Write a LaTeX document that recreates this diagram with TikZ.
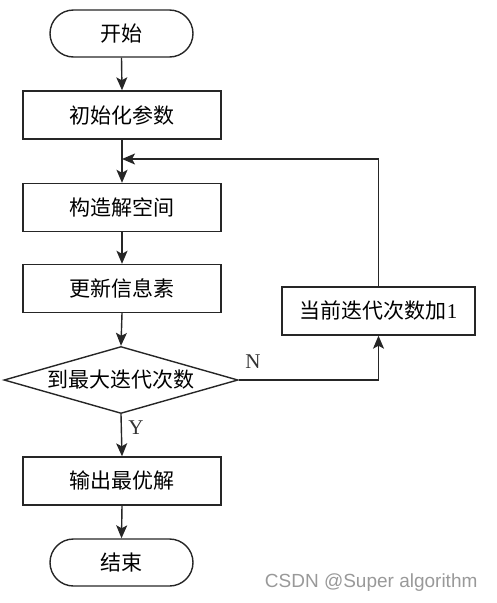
\documentclass[tikz,border=0pt]{standalone}
\usepackage{fontspec}
\setmainfont{Liberation Serif}
\newfontfamily\cjk{Noto Sans CJK SC}
\newfontfamily\wm{Liberation Sans}
\usetikzlibrary{shapes.geometric,arrows.meta}
\begin{document}
\begin{tikzpicture}[x=1pt,y=-1pt,
  every node/.style={font=\cjk\fontsize{21}{25}\selectfont},
  line/.style={line width=1.4pt,draw=black!85},
  term/.style={line, rounded corners=23.5pt, minimum width=143pt, minimum height=47pt, inner sep=0pt},
  proc/.style={line, minimum width=198pt, minimum height=48pt, inner sep=0pt},
  dec/.style={line, diamond, aspect=3.5, minimum width=234pt, minimum height=67pt, inner sep=0pt},
  arr/.style={line, -{Stealth[length=13pt,width=11pt,inset=3pt]}},
  lab/.style={font=\fontsize{21}{24}\selectfont, text=black!80}
]
\useasboundingbox (0,0) rectangle (496,603);
\node[term] (start) at (121.5,33.5) {开始};
\node[proc] (init) at (122,115) {初始化参数};
\node[proc] (build) at (122,207.5) {构造解空间};
\node[proc] (upd) at (122,288.5) {更新信息素};
\node[dec] (chk) at (121,380) {到最大迭代次数};
\node[proc] (out) at (122,481) {输出最优解};
\node[term] (fin) at (121.5,562.5) {结束};
\node[line, minimum width=193pt, minimum height=48pt, inner sep=0pt] (inc) at (378.5,311) {当前迭代次数加{\rmfamily 1}};
\coordinate (jn) at (122,159);

\draw[arr] (start.south) -- (init.north);
\draw[arr] (init.south) -- (build.north);
\draw[arr] (build.south) -- (upd.north);
\draw[arr] (upd.south) -- (chk.north);
\draw[arr] (chk.south) -- (out.north);
\draw[arr] (out.south) -- (fin.north);
\draw[arr] (chk.east) -| (inc.south);
\draw[arr] (inc.north) |- (jn);
\node[lab] (ylab) at (136,428) {Y};
\node[lab] (nlab) at (253,362) {N};

\node[font=\wm\fontsize{19}{22}\selectfont, text=black!40, anchor=east] (wm) at (481,583) {CSDN @Super algorithm};
\end{tikzpicture}
\end{document}
